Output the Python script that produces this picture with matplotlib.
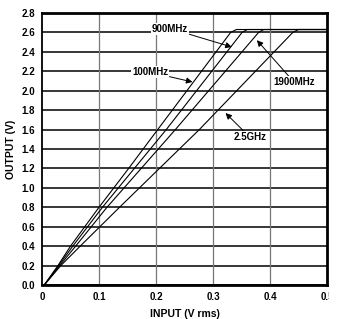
import matplotlib
matplotlib.use("Agg")
import matplotlib.pyplot as plt
from matplotlib.transforms import Bbox, TransformedBbox

out_levels = [0.0, 0.2, 0.4, 0.8, 1.2, 1.6, 2.6, 2.63, 2.63]
in_100mhz = [0.004, 0.028, 0.050, 0.100, 0.152, 0.203, 0.331, 0.341, 0.5]
in_900mhz = [0.004, 0.029, 0.054, 0.106, 0.162, 0.218, 0.351, 0.360, 0.5]
in_1900mhz = [0.004, 0.031, 0.059, 0.114, 0.174, 0.234, 0.380, 0.389, 0.5]
in_2500mhz = [0.004, 0.033, 0.067, 0.136, 0.206, 0.276, 0.440, 0.450, 0.5]

x_ticks = [0, 0.1, 0.2, 0.3, 0.4, 0.5]
x_tick_labels = ["0", "0.1", "0.2", "0.3", "0.4", "0.5"]
y_ticks = [0.0, 0.2, 0.4, 0.6, 0.8, 1.0, 1.2, 1.4, 1.6, 1.8, 2.0, 2.2, 2.4, 2.6, 2.8]

# label text, text position, arrow tip
callouts = [
    ("900MHz", (0.225, 2.64), (0.333, 2.45)),
    ("100MHz", (0.190, 2.19), (0.264, 2.09)),
    ("1900MHz", (0.442, 2.09), (0.377, 2.52)),
    ("2.5GHz", (0.365, 1.52), (0.322, 1.77)),
]

plt.rcParams['font.family'] = ['Liberation Sans Narrow', 'Liberation Sans', 'DejaVu Sans']

fig = plt.figure(figsize=(3.52, 3.19), dpi=100)
ax = fig.add_axes([42 / 352, 1 - 285 / 319, 285 / 352, 272 / 319])

for xs in (in_100mhz, in_900mhz, in_1900mhz, in_2500mhz):
    ax.plot(xs, out_levels, color='black', lw=0.8, zorder=3)

ax.set_xlim(0, 0.5)
ax.set_ylim(0, 2.8)
ax.set_xticks(x_ticks)
ax.set_xticklabels(x_tick_labels)
ax.set_yticks(y_ticks)
ax.set_yticklabels([f"{v:.1f}" for v in y_ticks])
ax.tick_params(length=0, labelsize=7, pad=5)
for lbl in ax.get_xticklabels() + ax.get_yticklabels():
    lbl.set_fontweight('bold')

for v in y_ticks:
    ax.axhline(v, color='black', lw=1.1, zorder=1)
for v in x_ticks[1:-1]:
    ax.axvline(v, color='#777777', lw=0.9, zorder=1)

for side in ['top', 'bottom', 'right']:
    ax.spines[side].set_linewidth(2)
ax.spines['left'].set_linewidth(1.3)

for text, pos, tip in callouts:
    ax.annotate(text, xy=tip, xytext=pos, fontsize=7, fontweight='bold',
                ha='center', va='center', zorder=5,
                bbox=dict(boxstyle='square,pad=0.1', fc='white', ec='none'),
                arrowprops=dict(arrowstyle='-|>', color='black', lw=0.7,
                                mutation_scale=9, shrinkA=0, shrinkB=0))

ax.set_xlabel("INPUT (V rms)", fontsize=7.5, fontweight='bold', labelpad=5)
ax.set_ylabel("OUTPUT (V)", fontsize=7.5, fontweight='bold', labelpad=4)

# the right edge of the original picture cuts into the "0.5" label
clip = TransformedBbox(Bbox([[0, 0], [329 / 352, 1]]), fig.transFigure)
last = ax.get_xticklabels()[-1]
last.set_clip_box(clip)
last.set_clip_on(True)

fig.savefig("out.png", dpi=100)
